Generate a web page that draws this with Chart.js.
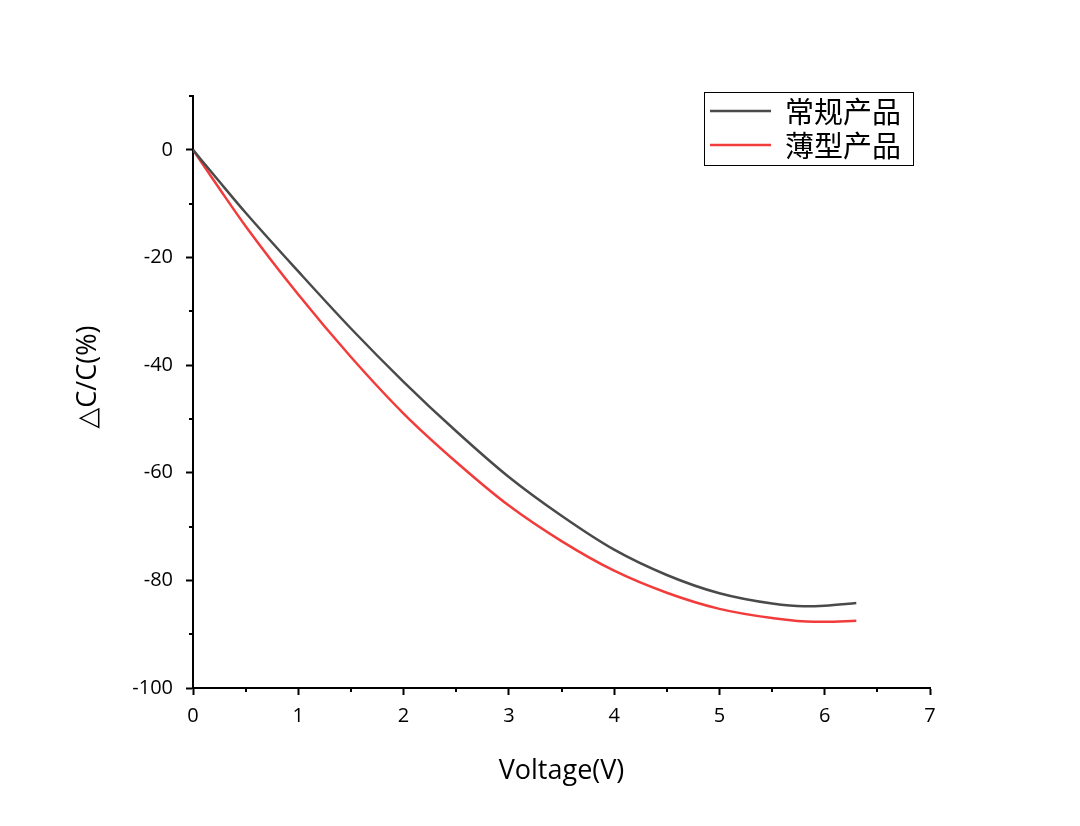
<!DOCTYPE html>
<html>
<head>
<meta charset="utf-8">
<script src="https://cdn.jsdelivr.net/npm/chart.js@4.4.1/dist/chart.umd.min.js"></script>
<style>
  html, body { margin: 0; padding: 0; background: #fff; }
  #wrap { width: 1080px; height: 826px; }
</style>
</head>
<body>
<div id="wrap"><canvas id="c" width="1080" height="826"></canvas></div>
<script>
// Dados
const voltsNormal = [0, 0.25, 0.5, 1, 1.5, 2, 2.5, 3, 3.5, 4, 4.5, 5, 5.5, 5.8, 6, 6.3];
const dcNormal    = [0, -5.9, -11.7, -22.6, -33.2, -43.1, -52.3, -60.8, -68.0, -74.3, -79.0, -82.4, -84.3, -84.8, -84.7, -84.2];
const voltsThin   = [0, 0.25, 0.5, 1, 1.5, 2, 2.5, 3, 3.5, 4, 4.5, 5, 5.5, 5.9, 6, 6.3];
const dcThin      = [0, -7.2, -14.2, -26.9, -38.5, -49.0, -58.0, -66.1, -72.7, -78.2, -82.3, -85.3, -87.0, -87.7, -87.7, -87.5];
const seriesNames = ["常规产品", "薄型产品"];
const xTicks = [0, 1, 2, 3, 4, 5, 6, 7];
const yTicks = [-100, -80, -60, -40, -20, 0];

const CORES = ["#4a4a4a", "#f23c3c"];
const FONTE = "'Open Sans', 'DejaVu Sans', sans-serif";
const CJK = "'Noto Sans CJK SC', sans-serif";

const pontos = (xs, ys) => xs.map((x, i) => ({ x, y: ys[i] }));

// Ticks menores, títulos dos eixos e legenda
const extras = {
  id: "extras",
  afterDraw(chart) {
    const { ctx, scales: { x, y } } = chart;
    ctx.save();
    ctx.strokeStyle = "#000";
    ctx.lineWidth = 2;
    // ticks menores
    for (let v = 0.5; v < 7; v += 1) {
      const px = Math.round(x.getPixelForValue(v));
      ctx.beginPath(); ctx.moveTo(px, y.bottom); ctx.lineTo(px, y.bottom + 4); ctx.stroke();
    }
    for (let v = -90; v <= 10; v += 20) {
      const py = Math.round(y.getPixelForValue(v));
      ctx.beginPath(); ctx.moveTo(x.left, py); ctx.lineTo(x.left - 4, py); ctx.stroke();
    }
    // títulos
    ctx.fillStyle = "#000";
    ctx.font = "27px " + FONTE;
    ctx.textAlign = "center";
    ctx.textBaseline = "middle";
    ctx.fillText("Voltage(V)", (x.left + x.right) / 2, 771);
    ctx.translate(88, 377);
    ctx.rotate(-Math.PI / 2);
    ctx.fillText("△C/C(%)", 0, 0);
    ctx.restore();

    // legenda
    ctx.save();
    ctx.strokeStyle = "#000";
    ctx.lineWidth = 1;
    ctx.strokeRect(704.5, 92.5, 209, 73);
    ctx.font = "29px " + CJK;
    ctx.textAlign = "left";
    ctx.textBaseline = "middle";
    chart.data.datasets.forEach((ds, i) => {
      const yy = 111 + i * 34;
      ctx.strokeStyle = ds.borderColor;
      ctx.lineWidth = 2.5;
      ctx.beginPath(); ctx.moveTo(710, yy); ctx.lineTo(771, yy); ctx.stroke();
      ctx.fillStyle = "#000";
      ctx.fillText(ds.label, 785, yy + 1);
    });
    ctx.restore();
  },
};

new Chart(document.getElementById("c"), {
  type: "scatter",
  data: {
    datasets: [
      { label: seriesNames[0], data: pontos(voltsNormal, dcNormal), borderColor: CORES[0] },
      { label: seriesNames[1], data: pontos(voltsThin, dcThin), borderColor: CORES[1] },
    ].map((d) => ({ ...d, showLine: true, pointRadius: 0, borderWidth: 2.5, cubicInterpolationMode: "monotone", fill: false })),
  },
  options: {
    responsive: false,
    animation: false,
    layout: { padding: { top: 96, right: 150, left: 0, bottom: 0 } },
    plugins: { legend: { display: false }, tooltip: { enabled: false } },
    scales: {
      x: {
        type: "linear",
        min: 0, max: 7,
        afterBuildTicks: (s) => { s.ticks = xTicks.map((v) => ({ value: v })); },
        afterFit: (s) => { s.height = 138; },
        border: { color: "#000", width: 2 },
        grid: { drawOnChartArea: false, drawTicks: true, tickLength: 7, tickColor: "#000", tickWidth: 2 },
        ticks: { color: "#000", font: { family: FONTE, size: 20 }, padding: 9 },
      },
      y: {
        type: "linear",
        min: -100, max: 10,
        afterBuildTicks: (s) => { s.ticks = yTicks.map((v) => ({ value: v })); },
        afterFit: (s) => { s.width = 193; },
        border: { color: "#000", width: 2 },
        grid: { drawOnChartArea: false, drawTicks: true, tickLength: 7, tickColor: "#000", tickWidth: 2 },
        ticks: { color: "#000", font: { family: FONTE, size: 20 }, padding: 13 },
      },
    },
  },
  plugins: [extras],
});
</script>
</body>
</html>
